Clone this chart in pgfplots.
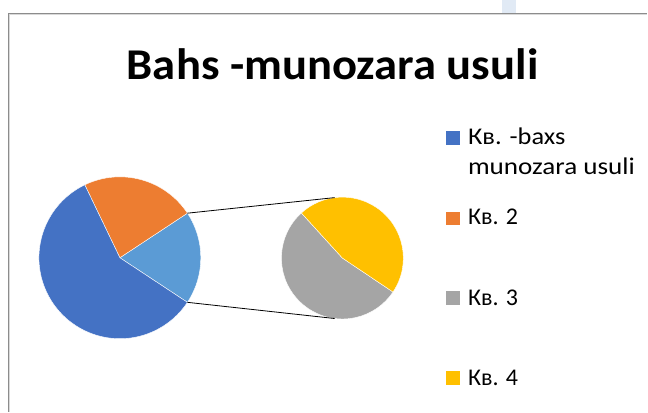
\documentclass[border=0pt]{standalone}
\usepackage{pgfplots}
\pgfplotsset{compat=1.18}
\usepackage{pgfplotstable}
\usetikzlibrary{calc}
\usepackage{fontspec}
\setmainfont{Carlito}
\definecolor{cA}{HTML}{4472C4}
\definecolor{cB}{HTML}{ED7D31}
\definecolor{cC}{HTML}{A5A5A5}
\definecolor{cD}{HTML}{FFC000}
\definecolor{cO}{HTML}{5B9BD5}
\definecolor{frame}{HTML}{8C8C8C}
\definecolor{framelight}{HTML}{D9D9D9}
\definecolor{pale}{HTML}{E1EAF5}
\pgfplotstableread{
value
8.2
3.2
1.4
1.2
}\piedata
\pgfplotstablegetelem{0}{value}\of\piedata \let\va\pgfplotsretval
\pgfplotstablegetelem{1}{value}\of\piedata \let\vb\pgfplotsretval
\pgfplotstablegetelem{2}{value}\of\piedata \let\vc\pgfplotsretval
\pgfplotstablegetelem{3}{value}\of\piedata \let\vd\pgfplotsretval
\pgfmathsetmacro\total{\va+\vb+\vc+\vd}
\pgfmathsetmacro\other{\vc+\vd}
\pgfmathsetmacro\half{180*\other/\total}
\pgfmathsetmacro\aS{-\half}
\pgfmathsetmacro\aE{\half}
\pgfmathsetmacro\bE{\aE+360*\vb/\total}
\pgfmathsetmacro\cE{360-\half}
\pgfmathsetmacro\sS{132.3}
\pgfmathsetmacro\sM{\sS+360*\vc/\other}
\pgfmathsetmacro\sE{\sS+360}
\begin{document}
\begin{tikzpicture}
\begin{axis}[x=1pt,y=1pt,xmin=0,xmax=648,ymin=0,ymax=412,
  hide axis,clip=false,scale only axis]
\path (axis cs:0,0) rectangle (axis cs:648,412);
% screenshot details
\fill[pale] (axis cs:502,398.7) rectangle (axis cs:516.5,412);
\draw[framelight,line width=1pt] (axis cs:10,0) -- (axis cs:10,397.2) -- (axis cs:648,397.2);
\draw[frame,line width=1.2pt] (axis cs:8.8,0) -- (axis cs:8.8,398.4) -- (axis cs:648,398.4);
% title
\node[anchor=base,inner sep=0pt,xscale=1.06,font=\fontsize{44}{52}\selectfont\bfseries] at (axis cs:332.9,332.7) {Bahs -munozara usuli};
% main pie
\def\cx{120}\def\cy{154}\def\r{81}
\filldraw[fill=cO,draw=white,line width=0.4pt] (axis cs:\cx,\cy) -- ++(\aS:\r) arc[start angle=\aS,end angle=\aE,radius=\r] -- cycle;
\filldraw[fill=cB,draw=white,line width=0.4pt] (axis cs:\cx,\cy) -- ++(\aE:\r) arc[start angle=\aE,end angle=\bE,radius=\r] -- cycle;
\filldraw[fill=cA,draw=white,line width=0.4pt] (axis cs:\cx,\cy) -- ++(\bE:\r) arc[start angle=\bE,end angle=\cE,radius=\r] -- cycle;
% secondary pie
\def\sx{342.7}\def\sy{153.7}\def\sr{61}
\filldraw[fill=cC,draw=white,line width=0.4pt] (axis cs:\sx,\sy) -- ++(\sS:\sr) arc[start angle=\sS,end angle=\sM,radius=\sr] -- cycle;
\filldraw[fill=cD,draw=white,line width=0.4pt] (axis cs:\sx,\sy) -- ++(\sM:\sr) arc[start angle=\sM,end angle=\sE,radius=\sr] -- cycle;
% connector lines
\draw[black,line width=0.8pt] (axis cs:\cx,\cy) ++(\aE:\r) -- ($(axis cs:\sx,\sy)+(97.3:\sr)$);
\draw[black,line width=0.8pt] (axis cs:\cx,\cy) ++(\aS:\r) -- ($(axis cs:\sx,\sy)+(262.7:\sr)$);
% legend
\fill[cA] (axis cs:446,267) rectangle (axis cs:460.7,281.3);
\fill[cB] (axis cs:446,187) rectangle (axis cs:460.7,200.3);
\fill[cC] (axis cs:446,106.3) rectangle (axis cs:460.7,120.3);
\fill[cD] (axis cs:446,26.3) rectangle (axis cs:460.7,40.3);
\begin{scope}[every node/.style={anchor=base west,inner sep=0pt,font=\fontsize{24}{29}\selectfont}]
\node[xscale=1.1] at (axis cs:468.3,267) {Кв. -baxs};
\node[xscale=1.13] at (axis cs:468.3,237) {munozara usuli};
\node at (axis cs:468.3,187) {Кв. 2};
\node at (axis cs:468.3,106.3) {Кв. 3};
\node at (axis cs:468.3,26.3) {Кв. 4};
\end{scope}
\end{axis}
\end{tikzpicture}
\end{document}
